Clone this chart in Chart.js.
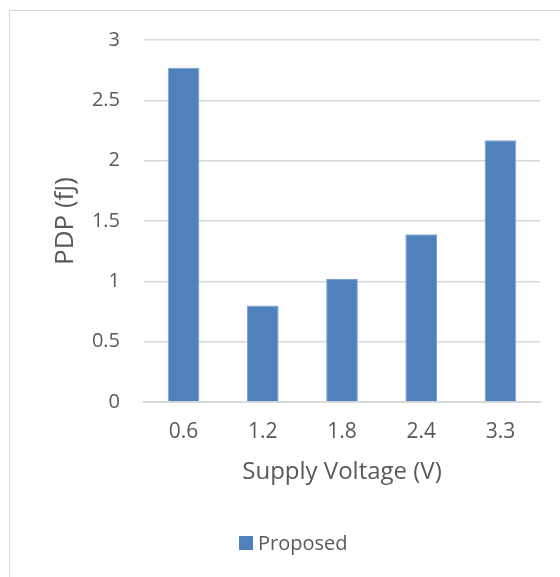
<!DOCTYPE html>
<html lang="en">
<head>
    <meta charset="UTF-8">
    <title>PDP vs Supply Voltage</title>
    <style>
        body {
            margin: 0;
            padding: 0;
            width: 560px;
            height: 577px;
            overflow: hidden;
            background: #ffffff;
            font-family: "Open Sans", sans-serif;
        }

        .frame {
            position: absolute;
            left: 9px;
            top: 10px;
            width: 600px;
            height: 620px;
            border: 1.5px solid #d9d9d9;
        }

        .chart-box {
            position: absolute;
            left: 0;
            top: 0;
            width: 560px;
            height: 577px;
        }

        .legend-container {
            position: absolute;
            left: 239px;
            top: 529px;
            display: flex;
            align-items: center;
            gap: 5px;
            color: #595959;
            font-size: 20px;
        }

        .legend-color {
            width: 14px;
            height: 14px;
            background-color: #4f81bd;
        }
    </style>
</head>
<body>

<div class="frame"></div>

<div class="chart-box">
    <canvas id="bars" width="560" height="577"></canvas>
</div>

<div class="legend-container">
    <div class="legend-color"></div>
    <span>Proposed</span>
</div>

<script src="https://cdn.jsdelivr.net/npm/chart.js"></script>

<script>
    // data
    const voltages = ['0.6', '1.2', '1.8', '2.4', '3.3'];
    const proposed = [2.77, 0.80, 1.02, 1.39, 2.17];
    const yTicks = [0, 0.5, 1, 1.5, 2, 2.5, 3];

    const textColor = '#595959';
    const gridColor = '#d9d9d9';

    const ctx = document.getElementById('bars').getContext('2d');
    new Chart(ctx, {
        type: 'bar',
        data: {
            labels: voltages,
            datasets: [{
                label: 'Proposed',
                data: proposed,
                backgroundColor: '#4f81bd',
                borderColor: '#7da1cf',
                borderWidth: 1,
                barPercentage: 0.4,
                categoryPercentage: 1
            }]
        },
        options: {
            responsive: false,
            animation: false,
            layout: {
                padding: { left: 0, top: 40, right: 20, bottom: 90 }
            },
            plugins: {
                legend: { display: false }, // legend is plain html below
                tooltip: { enabled: false }
            },
            scales: {
                x: {
                    grid: { display: false, drawTicks: false },
                    border: { color: gridColor, width: 2 },
                    ticks: {
                        color: textColor,
                        font: { family: 'Open Sans', size: 21 },
                        padding: 17
                    },
                    title: {
                        display: true,
                        text: 'Supply Voltage (V)',
                        color: textColor,
                        font: { family: 'Open Sans', size: 24 },
                        padding: { top: 0, bottom: 0 }
                    },
                    afterFit: function (scale) {
                        scale.height = 85;
                    }
                },
                y: {
                    min: 0,
                    max: 3,
                    afterBuildTicks: function (scale) {
                        scale.ticks = yTicks.map(v => ({ value: v }));
                    },
                    grid: { color: gridColor, lineWidth: 1.5, drawTicks: false },
                    border: { display: false },
                    ticks: {
                        color: textColor,
                        font: { family: 'Open Sans', size: 20 },
                        padding: 24,
                        callback: function (value) {
                            return String(value);
                        }
                    },
                    title: {
                        display: true,
                        text: 'PDP (fJ)',
                        color: textColor,
                        font: { family: 'Open Sans', size: 26 },
                        padding: { top: 50, bottom: 0 }
                    },
                    afterFit: function (scale) {
                        scale.width = 144;
                    }
                }
            }
        }
    });
</script>

</body>
</html>
